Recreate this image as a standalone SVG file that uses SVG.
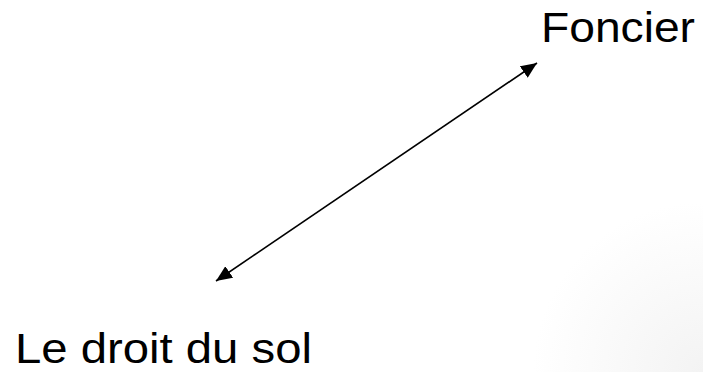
<svg xmlns="http://www.w3.org/2000/svg" width="703" height="372" viewBox="0 0 703 372">
<defs>
<style>
.lbl{font-family:"Liberation Sans",Arial,sans-serif;font-size:42px;fill:#000}
.conn{stroke:#000;stroke-width:1.6;fill:none}
</style>
<marker id="ah" viewBox="0 0 10 10" refX="10" refY="5" markerWidth="16" markerHeight="14" markerUnits="userSpaceOnUse" orient="auto-start-reverse" preserveAspectRatio="none">
<path d="M0,0 L10,5 L0,10 z" fill="#000"/>
</marker>
<radialGradient id="corner" cx="703" cy="372" r="170" gradientUnits="userSpaceOnUse">
<stop offset="0" stop-color="#f3f3f3"/>
<stop offset="1" stop-color="#ffffff"/>
</radialGradient>
</defs>
<rect width="703" height="372" fill="url(#corner)"/>
<g id="connectors">
<line class="conn" x1="216" y1="281" x2="537" y2="63" marker-start="url(#ah)" marker-end="url(#ah)"/>
</g>
<g id="foncier">
<text class="lbl" x="541" y="42" textLength="154" lengthAdjust="spacingAndGlyphs">Foncier</text>
</g>
<g id="droit-du-sol">
<text class="lbl" x="15" y="363" textLength="297" lengthAdjust="spacingAndGlyphs">Le droit du sol</text>
</g>
</svg>
